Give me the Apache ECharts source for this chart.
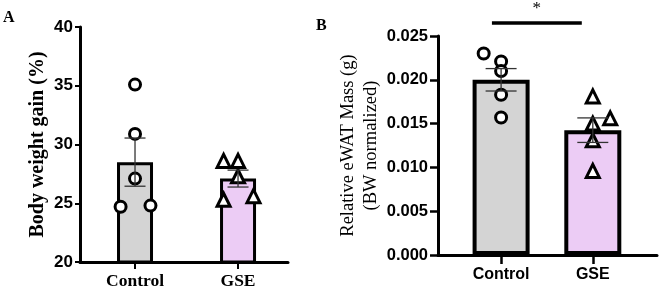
<!DOCTYPE html>
<html><head><meta charset="utf-8">
<script src="https://cdn.jsdelivr.net/npm/echarts@6/dist/echarts.min.js"></script>
<style>html,body{margin:0;padding:0;background:#fff}#c{width:660px;height:290px}</style>
</head><body><div id="c"></div>
<script>
// ---- data ----
const categories = ['Control', 'GSE'];
const barColors = ['#d4d4d4', '#ecccf5'];
// Panel A: body weight gain (%)
const gainMean = [28.5, 27.1];
const gainSem = [2.05, 0.72];
const gainControl = [35.1, 30.9, 27.1, 24.7, 24.8];
const gainControlJitter = [0, 0, 0, -0.14, 0.15];
const gainGSE = [28.6, 28.6, 27.3, 25.3, 25.6];
const gainGSEJitter = [-0.14, 0, 0, -0.14, 0.15];
const gainTicks = [20, 25, 30, 35, 40];
// Panel B: relative eWAT mass (g, BW normalized)
const ewatMean = [0.0200, 0.01425];
const ewatSem = [0.00128, 0.0014];
const ewatControl = [0.0230, 0.0221, 0.0210, 0.0183, 0.0157];
const ewatControlJitter = [-0.19, 0, 0, 0, 0];
const ewatGSE = [0.0181, 0.0156, 0.0150, 0.0131, 0.0096];
const ewatGSEJitter = [0, 0.19, 0, 0, 0];
const ewatTicks = [0, 0.005, 0.010, 0.015, 0.020, 0.025];
const sigLabel = '*';
const sigLevel = 0.02648;
const sigStarLevel = 0.0281;
const sigSpan = [-0.1, 0.88];

const SERIF = '"Liberation Serif", "DejaVu Serif", serif';
const SANS = '"Liberation Sans", Arial, sans-serif';

function pts(vals, jit, base) { return vals.map((v, i) => [base + jit[i], v]); }

function errSeries(xi, yi, means, sems, cap) {
  return {
    type: 'custom', xAxisIndex: xi, yAxisIndex: yi, z: 5,
    data: means.map((m, i) => [i, m, sems[i]]),
    encode: { x: 0, y: 1 },
    renderItem: function (params, api) {
      const x = api.value(0), m = api.value(1), s = api.value(2);
      const top = api.coord([x, m + s]), bot = api.coord([x, m - s]);
      const st = { stroke: '#333', lineWidth: 1.3 };
      return { type: 'group', children: [
        { type: 'line', shape: { x1: top[0], y1: top[1], x2: bot[0], y2: bot[1] }, style: st },
        { type: 'line', shape: { x1: top[0] - cap / 2, y1: top[1], x2: top[0] + cap / 2, y2: top[1] }, style: st },
        { type: 'line', shape: { x1: bot[0] - cap / 2, y1: bot[1], x2: bot[0] + cap / 2, y2: bot[1] }, style: st }
      ]};
    }
  };
}

function barSeries(xi, yi, means, w, bw) {
  return {
    type: 'bar', xAxisIndex: xi, yAxisIndex: yi, barWidth: w, z: 2,
    data: means.map((m, i) => ({ value: [i, m], itemStyle: { color: barColors[i], borderColor: '#000', borderWidth: bw } }))
  };
}

function scatter(xi, yi, data, sym, size) {
  return {
    type: 'scatter', xAxisIndex: xi, yAxisIndex: yi, z: 4, symbol: sym, symbolSize: size,
    itemStyle: { color: '#fff', borderColor: '#000', borderWidth: 3, opacity: 1 },
    data: data
  };
}

const chart = echarts.init(document.getElementById('c'), null, { renderer: 'canvas' });
const option = {
  animation: false,
  grid: [
    { left: 80, top: 27, width: 208, height: 235 },
    { left: 438, top: 36, width: 219, height: 219 }
  ],
  xAxis: [
    { type: 'value', gridIndex: 0, min: -0.534, max: 1.485, splitLine: { show: false },
      axisLine: { show: true, onZero: false, lineStyle: { color: '#000', width: 3 } },
      axisTick: { show: true, customValues: [0, 1], length: 7, lineStyle: { color: '#000', width: 2 } },
      axisLabel: { customValues: [0, 1], formatter: v => categories[Math.round(v)], margin: 10,
        fontFamily: SERIF, fontWeight: 'bold', fontSize: 17.5, color: '#000' } },
    { type: 'value', gridIndex: 1, min: -0.688, max: 1.7, splitLine: { show: false },
      axisLine: { show: true, onZero: false, lineStyle: { color: '#000', width: 3 } },
      axisTick: { show: true, customValues: [0, 1], length: 9, lineStyle: { color: '#000', width: 2.5 } },
      axisLabel: { customValues: [0, 1], formatter: v => categories[Math.round(v)], margin: 12,
        fontFamily: SANS, fontWeight: 'bold', fontSize: 16, color: '#000' } }
  ],
  yAxis: [
    { type: 'value', gridIndex: 0, min: gainTicks[0], max: gainTicks[gainTicks.length - 1], interval: 5,
      splitLine: { show: false },
      axisLine: { show: true, onZero: false, lineStyle: { color: '#000', width: 3 } },
      axisTick: { show: true, length: 5, lineStyle: { color: '#000', width: 2 } },
      axisLabel: { margin: 7, fontFamily: SANS, fontWeight: 'bold', fontSize: 17, color: '#000' },
      name: 'Body weight gain (%)', nameLocation: 'middle', nameGap: 32,
      nameTextStyle: { fontFamily: SERIF, fontWeight: 'bold', fontSize: 20, color: '#000' } },
    { type: 'value', gridIndex: 1, min: ewatTicks[0], max: ewatTicks[ewatTicks.length - 1], interval: 0.005,
      splitLine: { show: false },
      axisLine: { show: true, onZero: false, lineStyle: { color: '#000', width: 3 } },
      axisTick: { show: true, length: 8, lineStyle: { color: '#000', width: 2.5 } },
      axisLabel: { margin: 10, formatter: v => v.toFixed(3), fontFamily: SANS, fontWeight: 'bold', fontSize: 16.5, color: '#000' },
      name: 'Relative eWAT Mass (g)\n(BW normalized)', nameLocation: 'middle', nameGap: 55,
      nameTextStyle: { fontFamily: SERIF, fontSize: 18.5, lineHeight: 23, color: '#000' } }
  ],
  graphic: [
    { type: 'text', left: 3, top: 10, style: { text: 'A', font: 'bold 16px ' + SERIF, fill: '#000' } },
    { type: 'text', left: 316, top: 18, style: { text: 'B', font: 'bold 16px ' + SERIF, fill: '#000' } }
  ],
  series: [
    barSeries(0, 0, gainMean, 36, 3),
    scatter(0, 0, pts(gainControl, gainControlJitter, 0), 'circle', 11),
    scatter(0, 0, pts(gainGSE, gainGSEJitter, 1), 'triangle', 13),
    errSeries(0, 0, gainMean, gainSem, 21),
    barSeries(1, 1, ewatMean, 57, 4),
    scatter(1, 1, pts(ewatControl, ewatControlJitter, 0), 'circle', 11),
    scatter(1, 1, pts(ewatGSE, ewatGSEJitter, 1), 'triangle', 13),
    errSeries(1, 1, ewatMean, ewatSem, 31),
    { type: 'custom', xAxisIndex: 1, yAxisIndex: 1, clip: false, z: 6,
      data: [[sigSpan[0], sigSpan[1], sigLevel, sigStarLevel]],
      encode: { x: [0, 1], y: 2 },
      renderItem: function (params, api) {
        const a = api.coord([api.value(0), api.value(2)]);
        const b = api.coord([api.value(1), api.value(2)]);
        const s = api.coord([(api.value(0) + api.value(1)) / 2, api.value(3)]);
        return { type: 'group', children: [
          { type: 'line', shape: { x1: a[0], y1: a[1], x2: b[0], y2: b[1] }, style: { stroke: '#000', lineWidth: 3.5 } },
          { type: 'text', x: s[0], y: s[1], style: { text: sigLabel, font: '17px ' + SERIF, fill: '#000', align: 'center', verticalAlign: 'middle' } }
        ]};
      }
    }
  ]
};
chart.setOption(option);
</script></body></html>
